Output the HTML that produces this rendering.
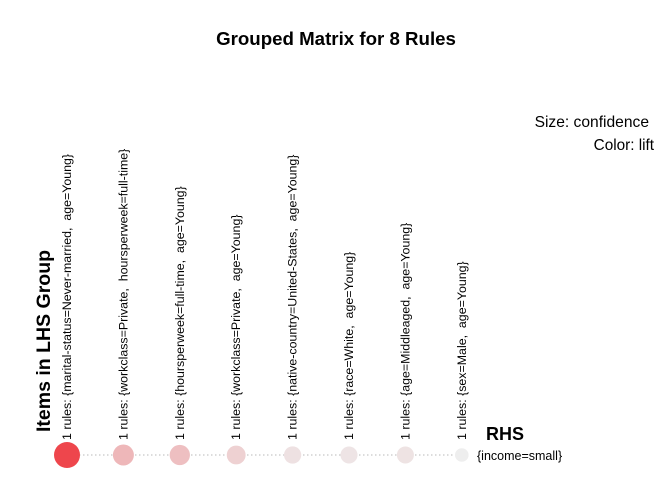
<!DOCTYPE html>
<html><head><meta charset="utf-8"><style>
body{margin:0;background:#fff}
svg{display:block;font-family:"Liberation Sans",sans-serif}
</style></head><body>
<svg id="chart" width="672" height="480">
<text x="336" y="45" text-anchor="middle" font-size="18.7" font-weight="bold">Grouped Matrix for 8 Rules</text>
<text x="649" y="127" text-anchor="end" font-size="15.6">Size: confidence</text>
<text x="654" y="150" text-anchor="end" font-size="15.3">Color: lift</text>
<text transform="translate(50,432) rotate(-90)" font-size="19.5" font-weight="bold">Items in LHS Group</text>
<text x="486" y="440" font-size="18" font-weight="bold">RHS</text>
<text x="477" y="460" font-size="12.5">{income=small}</text>
<line x1="67" y1="455" x2="462" y2="455" stroke="#c8c8c8" stroke-width="1.2" stroke-dasharray="1.5,2.5"/>
<g id="marks"></g>
</svg>
<script>
const labels = ["1 rules: {marital-status=Never-married,  age=Young}","1 rules: {workclass=Private,  hoursperweek=full-time}","1 rules: {hoursperweek=full-time,  age=Young}","1 rules: {workclass=Private,  age=Young}","1 rules: {native-country=United-States,  age=Young}","1 rules: {race=White,  age=Young}","1 rules: {age=Middleaged,  age=Young}","1 rules: {sex=Male,  age=Young}"];
const confidence = [0.95, 0.62, 0.58, 0.50, 0.42, 0.41, 0.41, 0.36];
const lift = [1.60, 1.30, 1.27, 1.20, 1.12, 1.10, 1.11, 1.00];

const x0 = 67, dx = 56.4, yRow = 455;
function xScale(i){ return x0 + i*dx; }
function rScale(c){ return 13*Math.sqrt(c/0.95) * (c<0.4?0.85:1); }
function colorScale(l){
  const t = Math.max(0, Math.min(1, (l-1.0)/0.6));
  const a=[238,238,238], b=[238,70,76];
  const c=a.map((v,k)=>Math.round(v+(b[k]-v)*Math.pow(t,1.6)));
  return "rgb("+c.join(",")+")";
}
const ns="http://www.w3.org/2000/svg";
const g=document.getElementById("marks");
labels.forEach((lab,i)=>{
  const x=xScale(i);
  const t=document.createElementNS(ns,"text");
  t.setAttribute("transform","translate("+(x+4)+",440) rotate(-90)");
  t.setAttribute("font-size","12.4");
  t.setAttribute("style","white-space:pre");
  t.textContent=lab;
  
  
  g.appendChild(t);
  const c=document.createElementNS(ns,"circle");
  c.setAttribute("cx",x);c.setAttribute("cy",yRow);
  c.setAttribute("r",rScale(confidence[i]));
  c.setAttribute("fill",colorScale(lift[i]));
  
  
  g.appendChild(c);
});
</script>
</body></html>
